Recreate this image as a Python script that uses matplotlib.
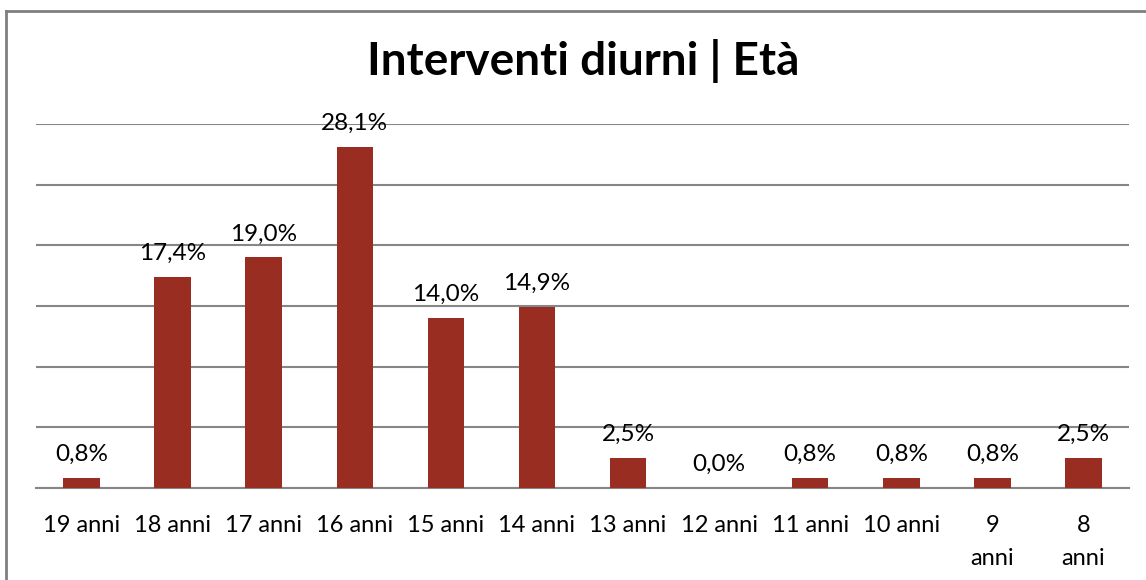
import matplotlib
matplotlib.use("Agg")
from matplotlib import pyplot as plt
from matplotlib.lines import Line2D

# dati
eta = ["19 anni", "18 anni", "17 anni", "16 anni", "15 anni", "14 anni",
       "13 anni", "12 anni", "11 anni", "10 anni", "9\nanni", "8\nanni"]
percentuali = [0.8, 17.4, 19.0, 28.1, 14.0, 14.9, 2.5, 0.0, 0.8, 0.8, 0.8, 2.5]
etichette = ["0,8%", "17,4%", "19,0%", "28,1%", "14,0%", "14,9%",
             "2,5%", "0,0%", "0,8%", "0,8%", "0,8%", "2,5%"]

plt.rcParams['font.family'] = ['Lato', 'DejaVu Sans']

W, H = 1146, 580
fig = plt.figure(figsize=(W / 100, H / 100), dpi=100)
ax = fig.add_axes([36 / W, (H - 488) / H, (1129 - 36) / W, (488 - 124) / H])

x = list(range(len(eta)))
ax.bar(x, percentuali, width=0.4, color="#992D21", zorder=3)

for xi, v, lab in zip(x, percentuali, etichette):
    ax.annotate(lab, (xi, v), xytext=(0, 13), textcoords="offset pixels",
                ha="center", va="bottom", fontsize=17.5, color="black", zorder=4)

ax.set_xlim(-0.5, len(eta) - 0.5)
ax.set_ylim(0, 30)
ax.set_yticks([0, 5, 10, 15, 20, 25, 30])
ax.yaxis.grid(True, color="#868686", linewidth=1.5)
ax.set_axisbelow(True)
ax.tick_params(axis="y", left=False, labelleft=False)
ax.tick_params(axis="x", bottom=False, pad=16)
ax.set_xticks(x)
ax.set_xticklabels(eta, fontsize=17, va="top", linespacing=1.7)
for s in ["top", "right", "left"]:
    ax.spines[s].set_visible(False)
ax.spines["bottom"].set_color("#868686")
ax.spines["bottom"].set_linewidth(1.5)

fig.text(583 / W, 1 - 75 / H, "Interventi diurni | Età", ha="center",
         va="baseline", fontsize=33, fontweight="bold")

# bordo del grafico
bx, by = 6 / W, 1 - 11 / H
fig.add_artist(Line2D([bx, bx], [0, by], color="#7F7F7F", linewidth=2,
                      transform=fig.transFigure))
fig.add_artist(Line2D([bx, 1], [by, by], color="#7F7F7F", linewidth=2,
                      transform=fig.transFigure))

fig.savefig("out.png", dpi=100)
